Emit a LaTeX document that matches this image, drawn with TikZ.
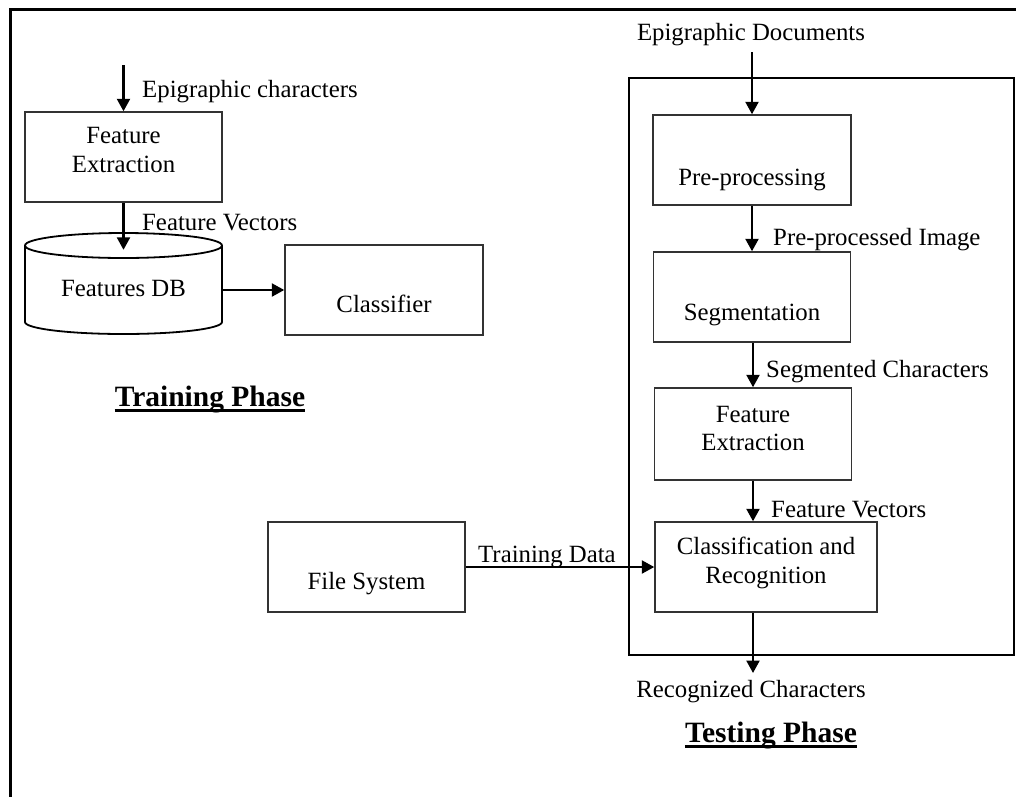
\documentclass[tikz,border=0pt]{standalone}
\usepackage{fontspec}
\setmainfont{Liberation Serif}
\usetikzlibrary{arrows.meta}
\begin{document}
\begin{tikzpicture}[x=1pt,y=-1pt,
  every node/.style={font=\fontsize{24.8}{28.5}\selectfont, inner sep=0pt},
  box/.style={draw=black!80, line width=1.5pt},
  arr/.style={line width=2.4pt, -{Triangle[length=12.5pt,width=13pt]}},
  lbl/.style={anchor=base west},
  txt/.style={anchor=base},
  phase/.style={font=\fontsize{29.5}{34}\selectfont\bfseries, anchor=base},
  uline/.style={line width=3.5pt}]
\useasboundingbox (0,0) rectangle (1016,796);
\fill[white] (0,0) rectangle (1016,796);
% page frame (runs past the right and bottom edges)
\begin{scope}
  \clip (0,0) rectangle (1016,796);
  \draw[line width=3pt] (10,9) rectangle (1040,820);
\end{scope}

% ---------------- Training phase ----------------
\coordinate (chin) at (123.5,65);
\node[box, minimum width=197pt, minimum height=90pt] (fe1) at (123.5,157) {};
\node[align=center] (fe1t) at (123.5,150) {Feature\\Extraction};
\node[lbl] (chlbl) at (142,97) {Epigraphic characters};
\draw[arr] (chin) -- (fe1);

% features database (cylinder)
\node[minimum width=197pt, minimum height=90pt] (db) at (123.5,290) {};
\draw[line width=1.8pt] (123.5,245.5) ellipse [x radius=98.5pt, y radius=12.5pt];
\draw[line width=1.8pt] (25,245.5) -- (25,322)
  arc[start angle=180, end angle=360, x radius=98.5pt, y radius=12pt] -- (222,245.5);
\node[txt] (dbt) at (123.5,296) {Features DB};
\draw[arr] (fe1) -- ([yshift=-5pt]db.north);
\node[lbl] (fv1) at (142,230) {Feature Vectors};

\node[box, minimum width=198pt, minimum height=90pt] (cls) at (384,290) {};
\node[txt] (clst) at (384,312) {Classifier};
\draw[arr] (db.east) -- (cls.west);

\node[phase] (trp) at (210,406) {Training Phase};
\draw[uline] ([yshift=-4.5pt]trp.base west) -- ([yshift=-4.5pt]trp.base east);

% ---------------- Testing phase ----------------
\node[draw, line width=2pt, minimum width=385pt, minimum height=577pt] (tst) at (821.5,366.5) {};
\node[txt] (docs) at (751,40) {Epigraphic Documents};
\coordinate (docin) at (752,52);

\node[box, minimum width=198pt, minimum height=90pt] (pre) at (752,160) {};
\node[txt] (pret) at (752,185) {Pre-processing};
\draw[arr] (docin) -- (pre);

\node[box, minimum width=197pt, minimum height=90pt] (seg) at (752,297) {};
\node[txt] (segt) at (752,320) {Segmentation};
\draw[arr] (pre) -- (seg);
\node[lbl] (ppi) at (773,245) {Pre-processed Image};

\node[box, minimum width=197pt, minimum height=92pt] (fe2) at (753,434) {};
\node[align=center] (fe2t) at (753,428.5) {Feature\\Extraction};
\draw[arr] (seg.south -| fe2.north) -- (fe2.north);
\node[lbl] (sgc) at (766,377) {Segmented Characters};

\node[box, minimum width=222pt, minimum height=90pt] (rec) at (766,567) {};
\node[align=center] (rect) at (766,562.8) {Classification and\\Recognition};
\draw[arr] (fe2.south) -- (fe2.south |- rec.north);
\node[lbl] (fv2) at (771,517) {Feature Vectors};

\coordinate (recout) at (753,673);
\draw[arr] (rec.south -| recout) -- (recout);
\node[txt] (rcc) at (751,697) {Recognized Characters};

\node[phase] (tsp) at (771,742) {Testing Phase};
\draw[uline] ([yshift=-4.5pt]tsp.base west) -- ([yshift=-4.5pt]tsp.base east);

% file system feeding the classifier
\node[box, minimum width=197pt, minimum height=90pt] (fs) at (366.5,567) {};
\node[txt] (fst) at (366.5,589) {File System};
\draw[arr] (fs.east) -- (fs.east -| rec.west);
\node[lbl] (tdl) at (478,562) {Training Data};
\end{tikzpicture}
\end{document}
